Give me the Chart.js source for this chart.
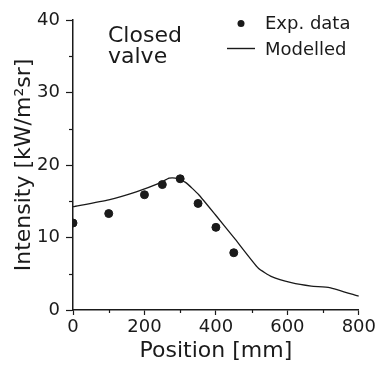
<!DOCTYPE html>
<html>
<head>
<meta charset="utf-8">
<script src="https://cdn.jsdelivr.net/npm/chart.js@4"></script>
<style>
  html, body { margin: 0; padding: 0; background: #fff; }
  #wrap { width: 378px; height: 365px; }
</style>
</head>
<body>
<div id="wrap"><canvas id="chart" width="378" height="365"></canvas></div>
<script>
// measured points
const expPositions = [0, 100, 200, 250, 300, 350, 400, 450];
const expIntensity = [12.0, 13.3, 15.9, 17.3, 18.1, 14.7, 11.4, 7.9];

// model curve
const modelPositions = [0, 100, 177, 242, 269, 287, 315, 352, 399, 455, 519, 556, 611, 667, 718, 800];
const modelIntensity = [14.25, 15.2, 16.3, 17.5, 18.2, 18.2, 17.6, 15.9, 13.1, 9.7, 5.75, 4.6, 3.77, 3.3, 3.1, 1.9];

const xMinorTicks = [100, 300, 500, 700];
const yMinorTicks = [5, 15, 25, 35];

const ink = "#1a1a1a";
const fontFamily = "'DejaVu Sans', Verdana, sans-serif";

// minor ticks, the "Closed valve" note and the legend
const extras = {
    id: "extras",
    afterDraw(chart) {
        const { ctx, scales } = chart;
        const area = chart.chartArea;
        ctx.save();
        ctx.strokeStyle = ink;
        ctx.lineWidth = 1.2;
        yMinorTicks.forEach((v) => {
            const y = Math.round(scales.y.getPixelForValue(v)) + 0.5;
            ctx.beginPath();
            ctx.moveTo(area.left - 4, y);
            ctx.lineTo(area.left, y);
            ctx.stroke();
        });
        xMinorTicks.forEach((v) => {
            const x = Math.round(scales.x.getPixelForValue(v)) + 0.5;
            ctx.beginPath();
            ctx.moveTo(x, area.bottom);
            ctx.lineTo(x, area.bottom + 3);
            ctx.stroke();
        });

        ctx.fillStyle = ink;
        ctx.textAlign = "left";
        ctx.textBaseline = "alphabetic";
        ctx.font = "22px " + fontFamily;
        ctx.fillText("Closed", 108, 42);
        ctx.fillText("valve", 108, 63);

        ctx.font = "18px " + fontFamily;
        ctx.beginPath();
        ctx.arc(241, 23.5, 3.5, 0, Math.PI * 2);
        ctx.fill();
        ctx.fillText("Exp. data", 265, 29);
        ctx.lineWidth = 1.4;
        ctx.beginPath();
        ctx.moveTo(227, 48.5);
        ctx.lineTo(255, 48.5);
        ctx.stroke();
        ctx.fillText("Modelled", 265, 55);
        ctx.restore();
    },
};

new Chart(document.getElementById("chart"), {
    type: "scatter",
    data: {
        datasets: [
            {
                label: "Exp. data",
                data: expPositions.map((x, i) => ({ x, y: expIntensity[i] })),
                backgroundColor: ink,
                borderColor: ink,
                pointRadius: 4,
                showLine: false,
            },
            {
                label: "Modelled",
                data: modelPositions.map((x, i) => ({ x, y: modelIntensity[i] })),
                borderColor: ink,
                borderWidth: 1.3,
                pointRadius: 0,
                showLine: true,
                tension: 0.15,
            },
        ],
    },
    options: {
        responsive: false,
        animation: false,
        layout: { padding: { left: 0, top: 20, right: 17, bottom: 0 } },
        plugins: { legend: { display: false }, tooltip: { enabled: false } },
        scales: {
            x: {
                type: "linear",
                min: 0,
                max: 800,
                afterFit: (scale) => { scale.height = 55; },
                border: { color: ink, width: 1.5 },
                grid: { drawOnChartArea: false, tickLength: 5, tickColor: ink, tickWidth: 1.2 },
                ticks: { stepSize: 200, color: ink, padding: 2, maxRotation: 0, font: { size: 18, family: fontFamily } },
                title: { display: true, text: "Position [mm]", color: ink, padding: { top: 0, bottom: 1 }, font: { size: 22, family: fontFamily } },
            },
            y: {
                min: 0,
                max: 40,
                afterFit: (scale) => { scale.width = 73; },
                border: { color: ink, width: 1.5 },
                grid: { drawOnChartArea: false, tickLength: 7, tickColor: ink, tickWidth: 1.2 },
                ticks: { stepSize: 10, color: ink, padding: 6, font: { size: 18, family: fontFamily } },
                title: { display: true, text: "Intensity [kW/m²sr]", color: ink, padding: { top: 11, bottom: 0 }, font: { size: 22, family: fontFamily } },
            },
        },
    },
    plugins: [extras],
});
</script>
</body>
</html>
